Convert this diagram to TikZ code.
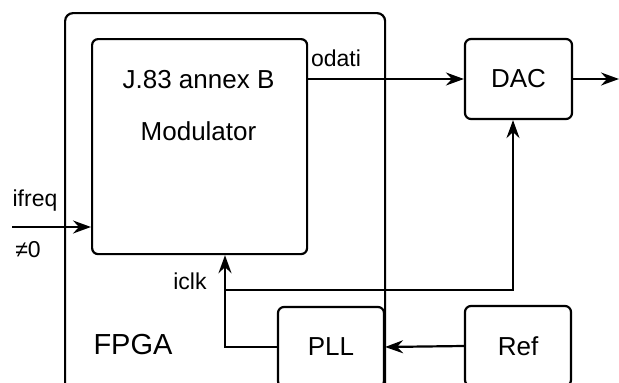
\documentclass[tikz,border=0pt]{standalone}
\usepackage{fontspec}
\setmainfont{Liberation Sans}
\usetikzlibrary{arrows.meta,positioning}

\begin{document}
\begin{tikzpicture}[x=1pt, y=-1pt,
  font=\fontsize{26}{30}\selectfont,
  box/.style={draw, line width=2.2pt, rounded corners=6pt, inner sep=0pt},
  lbl/.style={font=\fontsize{23}{26}\selectfont, inner sep=0pt},
  arr/.style={-{Stealth[length=18pt, width=13pt, inset=6pt]}, line width=2.2pt}]

\useasboundingbox (0,0) rectangle (619,383);
\clip (0,0) rectangle (619,383);

% ---------- FPGA ----------
\node[box, rounded corners=8pt, minimum width=320pt, minimum height=400pt,
      anchor=north west] (fpga) at (64,12) {};
\node[font=\fontsize{29}{30}\selectfont] (fpgatxt) at (133,345) {FPGA};

\node[box, minimum width=215pt, minimum height=215pt, anchor=north west]
  (mod) at (91,38) {};
\node (modtop) at (198.5,80) {J.83 annex B};
\node (modbot) at (198.5,131) {Modulator};

% ---------- blocks ----------
\node[box, minimum width=107pt, minimum height=80pt] (dac) at (518.5,79) {DAC};
\node[box, minimum width=106pt, minimum height=80pt] (pll) at (331,347) {PLL};
\node[box, minimum width=106pt, minimum height=80pt] (ref) at (518,346) {Ref};

\coordinate (in) at (12,227);
\coordinate (out) at (619,79);
\coordinate (clk) at (225,290);
\coordinate (dacclk) at (513,290);

% ---------- connections ----------
\draw[arr] (in) -- (in -| mod.west);
\draw[arr] (dac.west -| mod.east) -- (dac.west);
\draw[arr] (dac.east) -- (out);
\draw[arr] (ref.west) -- (pll.east);
\draw[arr] (pll.west) -| (clk |- mod.south);
\draw[arr] (clk) -| (dacclk |- dac.south);

% ---------- labels ----------
\node[lbl] (odati) at (336,58) {odati};
\node[lbl] (ifreq) at (35,201) {ifreq};
\node[lbl] (nz) at (28,250) {≠0};
\node[lbl] (iclk) at (190,281) {iclk};
\end{tikzpicture}
\end{document}
